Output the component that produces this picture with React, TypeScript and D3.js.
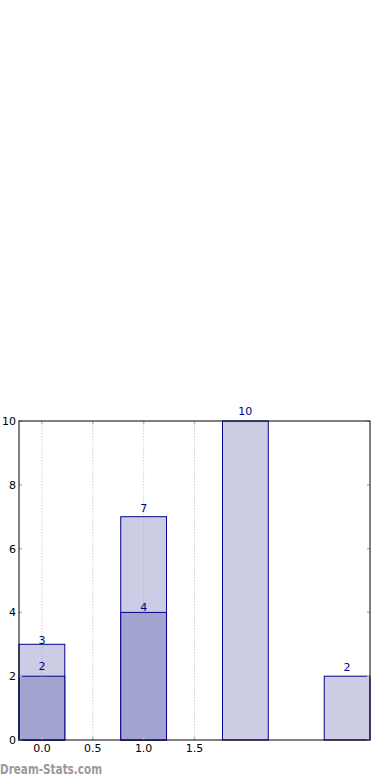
import React from 'react';
import * as d3 from 'd3';

// bar positions and counts
const positions = [0, 1, 2, 3];
const totals = [3, 7, 10, 2];
const innerPositions = [0, 1];
const innerValues = [2, 4];
const xTicks = [0, 0.5, 1.0, 1.5];
const xTickLabels = ['0.0', '0.5', '1.0', '1.5'];
const yTicks = [0, 2, 4, 6, 8, 10];

// label nudges (px above bar top), matching the original's uneven placement
const totalLift = [0, 5, 6, 5];
const innerLift = [6, 1];

const W = 390;
const H = 780;
const margin = { top: 421, right: 20, bottom: 40, left: 19 };

export default function App() {
  const x = d3.scaleLinear().domain([-0.225, 3.225]).range([margin.left, W - margin.right]);
  const y = d3.scaleLinear().domain([0, 10]).range([H - margin.bottom, margin.top]);
  const bw = x(0.45) - x(0);
  const left = margin.left;
  const right = W - margin.right;
  const top = margin.top;
  const bottom = H - margin.bottom;
  const font = 'DejaVu Sans, sans-serif';
  const navy = '#00008b';

  return (
    <svg
      width={W}
      height={H}
      style={{ position: 'absolute', left: 0, top: 0, background: '#fff' }}
      fontFamily={font}
    >
      {/* Total bars */}
      {positions.map((p, i) => (
        <rect
          key={'t' + i}
          x={x(p) - bw / 2}
          y={y(totals[i])}
          width={bw}
          height={y(0) - y(totals[i])}
          fill="#cccce5"
          stroke={navy}
          strokeWidth={1}
        />
      ))}
      {/* Inner bars */}
      {innerPositions.map((p, i) => (
        <rect
          key={'i' + i}
          x={x(p) - bw / 2}
          y={y(innerValues[i])}
          width={bw}
          height={y(0) - y(innerValues[i])}
          fill="#a3a3d0"
          stroke={navy}
          strokeWidth={1}
        />
      ))}

      {/* Dotted vertical gridlines */}
      {xTicks.map((t, i) => (
        <line
          key={'g' + i}
          x1={x(t)}
          x2={x(t)}
          y1={top}
          y2={bottom}
          stroke="#a8a8a8"
          strokeOpacity={0.55}
          strokeDasharray="1.5,1.5"
        />
      ))}

      {/* Tick marks, inside the frame */}
      {xTicks.map((t, i) => (
        <g key={'xt' + i} stroke="#bbb" strokeWidth={1.5}>
          <line x1={x(t)} x2={x(t)} y1={top} y2={top + 3} />
          <line x1={x(t)} x2={x(t)} y1={bottom} y2={bottom - 3} />
        </g>
      ))}
      {yTicks.map((t, i) => (
        <g key={'yt' + i} stroke="#bbb" strokeWidth={1.5}>
          <line x1={left} x2={left + 3} y1={y(t)} y2={y(t)} />
          <line x1={right} x2={right - 3} y1={y(t)} y2={y(t)} />
        </g>
      ))}

      {/* Frame */}
      <rect x={left} y={top} width={right - left} height={bottom - top} fill="none" stroke="#000" strokeWidth={1} />

      {/* Value labels */}
      {positions.map((p, i) => (
        <text
          key={'lt' + i}
          x={x(p)}
          y={y(totals[i]) - totalLift[i]}
          textAnchor="middle"
          fontSize={11}
          fill={navy}
        >
          {totals[i]}
        </text>
      ))}
      {innerPositions.map((p, i) => (
        <text
          key={'li' + i}
          x={x(p)}
          y={y(innerValues[i]) - innerLift[i]}
          textAnchor="middle"
          fontSize={11}
          fill={navy}
        >
          {innerValues[i]}
        </text>
      ))}

      {/* Axis labels */}
      {xTicks.map((t, i) => (
        <text key={'xl' + i} x={x(t)} y={bottom + 12} textAnchor="middle" fontSize={11} fill="#000">
          {xTickLabels[i]}
        </text>
      ))}
      {yTicks.map((t, i) => (
        <text key={'yl' + i} x={left - 3} y={y(t) + 4} textAnchor="end" fontSize={11} fill="#000">
          {t}
        </text>
      ))}

      {/* Watermark */}
      <text x={0} y={774} fontSize={13.5} fontWeight="600" fill="#9a9a9a" textLength={102} lengthAdjust="spacingAndGlyphs">
        Dream-Stats.com
      </text>
    </svg>
  );
}
